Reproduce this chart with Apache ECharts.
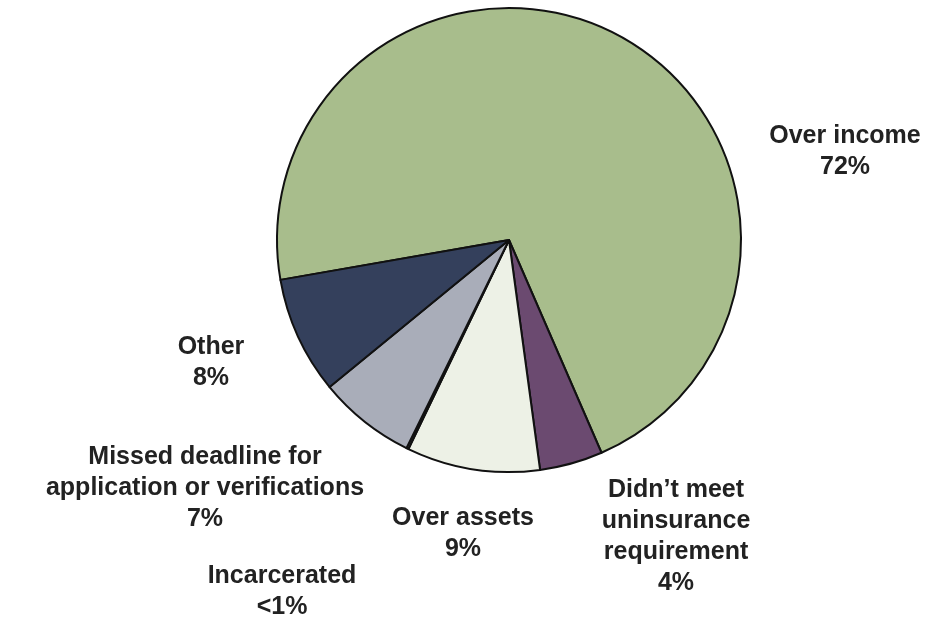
<!DOCTYPE html>
<html>
<head>
<meta charset="utf-8">
<style>
html,body{margin:0;padding:0;background:#fff;}
#chart{width:930px;height:623px;}
</style>
<script src="https://cdn.jsdelivr.net/npm/echarts@6/dist/echarts.min.js"></script>
</head>
<body>
<div id="chart"></div>
<script>
const categories = ["Over income", "Didn\u2019t meet\nuninsurance\nrequirement", "Over assets", "Incarcerated", "Missed deadline for\napplication or verifications", "Other"];
const values = [71.4, 4.4, 9.3, 0.15, 6.8, 8.2];
const valueLabels = ["72%", "4%", "9%", "<1%", "7%", "8%"];
const colors = ["#a8bd8c", "#6b4a70", "#edf1e6", "#a9adb9", "#a9adb9", "#34405c"];
// label block centres (layout only)
const labelPos = [[845, 152], [676, 537], [463, 534], [282, 592], [205, 488], [211, 363]];

const chart = echarts.init(document.getElementById('chart'));
chart.setOption({
  animation: false,
  series: [{
    type: 'pie',
    center: [509, 240],
    radius: 232,
    startAngle: 189.9,
    clockwise: true,
    avoidLabelOverlap: false,
    minAngle: 0,
    data: categories.map((c, i) => ({
      name: c,
      value: values[i],
      itemStyle: { color: colors[i] }
    })),
    itemStyle: { borderColor: '#111', borderWidth: 2 },
    label: {
      show: true,
      position: 'outside',
      formatter: p => p.name + '\n' + valueLabels[p.dataIndex],
      fontFamily: '"Liberation Sans", Arial, sans-serif',
      fontWeight: 'bold',
      fontSize: 25,
      lineHeight: 31,
      color: '#222',
      align: 'center'
    },
    labelLine: { show: false },
    labelLayout: p => ({
      x: labelPos[p.dataIndex][0],
      y: labelPos[p.dataIndex][1],
      align: 'center',
      verticalAlign: 'middle'
    }),
    emphasis: { disabled: true }
  }]
});
</script>
</body>
</html>
